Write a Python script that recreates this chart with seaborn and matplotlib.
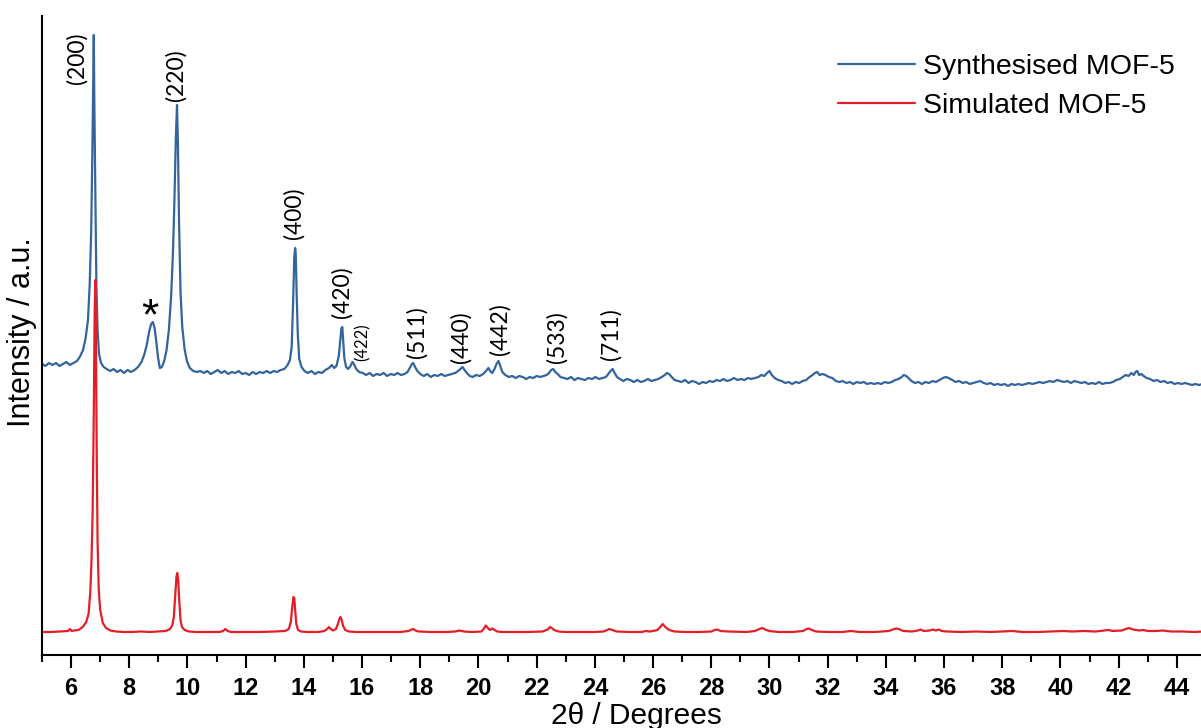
import matplotlib
matplotlib.use("Agg")
import matplotlib.pyplot as plt
from matplotlib.ticker import MultipleLocator
import pandas as pd
import seaborn as sns

# ---------------------------------------------------------------------------
# Powder XRD patterns of MOF-5 (2-theta in degrees, intensity in arbitrary units)
# ---------------------------------------------------------------------------
synth_2theta = [
    5.00, 5.12, 5.24, 5.36, 5.48, 5.60, 5.72, 5.84, 5.96, 6.08, 6.20,
    6.30, 6.41, 6.50, 6.58, 6.64, 6.69, 6.73, 6.76, 6.78, 6.80, 6.83, 6.87, 6.91, 6.96, 7.03, 7.12,
    7.22, 7.34, 7.46, 7.58, 7.70, 7.82, 7.94, 8.06, 8.18,
    8.30, 8.42, 8.52, 8.60, 8.68, 8.75, 8.81, 8.87, 8.93, 8.99, 9.05,
    9.12, 9.20, 9.28, 9.36, 9.44, 9.50, 9.55, 9.60, 9.64, 9.67, 9.71, 9.76, 9.82, 9.90, 9.98, 10.08, 10.20, 10.32,
    10.44, 10.56, 10.68, 10.80, 10.92, 11.04, 11.16, 11.28, 11.40, 11.52, 11.64, 11.76,
    11.88, 12.00, 12.12, 12.24, 12.36, 12.48, 12.60, 12.72, 12.84, 12.96, 13.08, 13.20,
    13.33, 13.44, 13.52, 13.58, 13.63, 13.67, 13.70, 13.72, 13.75, 13.79, 13.84, 13.92, 14.02,
    14.14, 14.26, 14.38, 14.50, 14.62, 14.74, 14.86,
    14.96, 15.04, 15.12, 15.20, 15.25, 15.29, 15.32, 15.35, 15.39, 15.45, 15.52, 15.60, 15.67, 15.72, 15.80, 15.90,
    16.02, 16.14, 16.26, 16.38, 16.50, 16.62, 16.74, 16.86, 16.98, 17.10, 17.22, 17.34, 17.46,
    17.56, 17.64, 17.71, 17.76, 17.82, 17.90, 18.00,
    18.12, 18.24, 18.36, 18.48, 18.60, 18.72, 18.84, 18.96, 19.08, 19.20,
    19.30, 19.38, 19.45, 19.52, 19.60, 19.70, 19.80, 19.92, 20.04, 20.16,
    20.26, 20.34, 20.40, 20.47, 20.55, 20.62, 20.69, 20.75, 20.82, 20.92, 21.04,
    21.16, 21.28, 21.40, 21.52, 21.64, 21.76, 21.88, 22.00, 22.12, 22.24,
    22.34, 22.42, 22.50, 22.57, 22.64, 22.72, 22.82, 22.94,
    23.06, 23.18, 23.30, 23.42, 23.54, 23.66, 23.78, 23.90, 24.02, 24.14, 24.26, 24.38,
    24.46, 24.54, 24.61, 24.68, 24.76, 24.86,
    24.98, 25.10, 25.22, 25.34, 25.46, 25.58, 25.70, 25.82, 25.94, 26.06, 26.18, 26.30,
    26.40, 26.48, 26.55, 26.64, 26.74, 26.86,
    26.98, 27.10, 27.22, 27.34, 27.46, 27.58, 27.70, 27.82, 27.94, 28.06, 28.18, 28.30,
    28.42, 28.54, 28.66, 28.78, 28.90, 29.02, 29.14, 29.26, 29.38, 29.50, 29.62,
    29.72, 29.82, 29.92, 30.00, 30.08, 30.18, 30.30,
    30.42, 30.54, 30.66, 30.78, 30.90, 31.02, 31.14, 31.26,
    31.38, 31.48, 31.56, 31.64, 31.72, 31.82, 31.92, 32.04, 32.16, 32.28, 32.40,
    32.52, 32.64, 32.76, 32.88, 33.00, 33.12, 33.24, 33.36, 33.48, 33.60, 33.72, 33.84, 33.96, 34.08, 34.20, 34.32,
    34.44, 34.54, 34.62, 34.70, 34.78, 34.88, 35.00, 35.12,
    35.24, 35.36, 35.48, 35.60, 35.72, 35.84, 35.96, 36.06, 36.16, 36.28, 36.40, 36.52, 36.64, 36.76, 36.88, 37.00,
    37.12, 37.24, 37.36, 37.48, 37.60, 37.72, 37.84, 37.96, 38.08, 38.20, 38.32,
    38.44, 38.56, 38.68, 38.80, 38.92, 39.04, 39.16, 39.28, 39.40, 39.52,
    39.64, 39.76, 39.88, 40.00, 40.12, 40.24, 40.36, 40.48, 40.60, 40.72, 40.84,
    40.96, 41.08, 41.20, 41.32, 41.44, 41.56, 41.68, 41.80, 41.92, 42.04,
    42.14, 42.24, 42.34, 42.44, 42.52, 42.58, 42.64, 42.70, 42.78, 42.86, 42.96, 43.08, 43.20,
    43.32, 43.44, 43.56, 43.68, 43.80, 43.92, 44.04, 44.16, 44.28, 44.40, 44.52, 44.64, 44.76, 44.88,
]
synth_intensity = [
    288, 286, 289, 287, 289, 286, 288, 290, 287, 289, 291,
    295, 302, 314, 332, 368, 420, 499, 575, 617, 545, 465, 365, 322, 298, 289, 285,
    283, 281, 283, 280, 282, 279, 282, 280, 282,
    285, 290, 298, 307, 320, 328, 330, 324, 310, 294, 284,
    285, 291, 302, 322, 357, 399, 450, 515, 547, 510, 430, 360, 325, 303, 291, 284, 281, 280,
    281, 279, 281, 278, 280, 282, 279, 281, 278, 280, 279, 281,
    278, 279, 277, 280, 278, 280, 279, 281, 279, 281, 280, 282,
    283, 287, 292, 305, 350, 395, 404, 398, 360, 318, 293, 285, 281,
    279, 281, 278, 280, 279, 282, 284,
    287, 284, 286, 296, 312, 324, 325, 312, 294, 285, 283, 286, 290, 288, 283, 280,
    279, 277, 279, 276, 278, 277, 279, 276, 278, 277, 279, 277, 278,
    280, 284, 288, 289, 285, 281, 278,
    276, 278, 275, 277, 276, 278, 276, 277, 278, 279,
    281, 283, 285, 282, 279, 276, 275, 277, 276, 278,
    281, 284, 281, 279, 283, 288, 291, 286, 280, 277, 275,
    276, 274, 276, 275, 273, 275, 274, 276, 275, 276,
    277, 279, 282, 283, 280, 278, 275, 274,
    273, 275, 272, 274, 273, 272, 274, 273, 275, 273, 274, 275,
    278, 281, 283, 279, 275, 273,
    271, 273, 272, 270, 272, 270, 271, 273, 271, 272, 273, 275,
    277, 279, 278, 275, 272, 271,
    270, 272, 269, 271, 270, 268, 270, 269, 271, 270, 272, 271,
    273, 271, 272, 274, 272, 273, 272, 274, 273, 274, 275,
    277, 276, 279, 281, 277, 274, 272,
    271, 269, 270, 268, 270, 269, 271, 272,
    275, 277, 279, 280, 277, 278, 277, 275, 274, 271, 270,
    271, 269, 270, 268, 270, 269, 270, 268, 269, 268, 269, 268, 270, 269, 270, 272,
    273, 275, 277, 276, 274, 271, 269, 270,
    268, 270, 269, 271, 270, 272, 274, 275, 274, 272, 270, 271, 269, 270, 268, 269,
    270, 271, 269, 268, 269, 267, 268, 267, 268, 266, 268,
    267, 268, 267, 268, 269, 268, 269, 270, 269, 270,
    271, 270, 272, 271, 270, 271, 269, 271, 270, 269, 270,
    268, 269, 268, 270, 268, 269, 269, 270, 272, 273,
    275, 277, 276, 279, 277, 280, 281, 277, 278, 276, 274, 273, 271,
    272, 270, 271, 269, 270, 268, 269, 268, 269, 268, 267, 268, 267, 268,
]

sim_2theta = [
    5.00, 5.30, 5.60, 5.90, 5.96, 6.02, 6.10,
    6.25, 6.40, 6.52, 6.60, 6.66, 6.70, 6.74, 6.78, 6.81, 6.83, 6.85, 6.88, 6.91, 6.95, 7.00, 7.09, 7.20, 7.35, 7.55,
    7.80, 8.10, 8.40, 8.70, 9.00, 9.25, 9.40, 9.48, 9.53, 9.58, 9.62, 9.65, 9.68, 9.72, 9.76, 9.81, 9.90, 10.05, 10.30,
    10.70, 11.10, 11.22, 11.30, 11.38, 11.50, 12.00, 12.50, 13.00, 13.35, 13.48, 13.55, 13.60, 13.64, 13.67, 13.70, 13.74, 13.80, 13.90, 14.10,
    14.50, 14.70, 14.80, 14.86, 14.92, 15.00, 15.10, 15.17, 15.22, 15.26, 15.30, 15.35, 15.42, 15.55, 15.80,
    16.30, 16.80, 17.30, 17.60, 17.70, 17.76, 17.83, 17.95, 18.40, 18.90, 19.20, 19.35, 19.50, 19.80,
    20.10, 20.18, 20.25, 20.32, 20.40, 20.47, 20.55, 20.65, 20.80, 21.20, 21.70, 22.20, 22.38, 22.46, 22.52, 22.60, 22.75, 23.00,
    23.50, 24.00, 24.30, 24.42, 24.50, 24.60, 24.75, 25.20, 25.60, 25.75, 25.90, 26.15, 26.25, 26.33, 26.42, 26.55, 26.75, 27.10,
    27.60, 28.00, 28.12, 28.20, 28.32, 28.60, 29.20, 29.50, 29.65, 29.75, 29.85, 30.00, 30.30, 30.80, 31.15, 31.28, 31.36, 31.45, 31.60,
    32.00, 32.50, 32.80, 33.10, 33.60, 34.10, 34.28, 34.38, 34.48, 34.60, 34.90, 35.10, 35.20, 35.30, 35.50, 35.62, 35.72, 35.82, 35.92, 36.10,
    36.60, 37.10, 37.60, 38.00, 38.35, 38.70, 39.20, 39.70, 40.10, 40.40, 40.80, 41.20, 41.50, 41.65,
    41.80, 42.10, 42.25, 42.35, 42.50, 42.70, 42.85, 43.00, 43.30, 43.50, 43.80, 44.20, 44.60, 44.90,
]
sim_intensity = [
    20, 20, 20.5, 21, 23, 21, 21.5,
    22, 25, 30, 38, 60, 90, 140, 240, 340, 372, 330, 200, 110, 62, 42, 29, 24, 21.5, 20.5,
    20, 20, 20.5, 20, 20.5, 21, 23, 27, 35, 58, 75, 79, 72, 50, 32, 25, 22, 20.5, 20,
    20, 20, 21, 23, 21, 20, 20, 20, 20.5, 21, 23, 30, 45, 55, 54, 42, 28, 22, 20.5, 20,
    20, 21, 23, 25, 23, 21.5, 23, 28, 33, 35, 32, 26, 22, 20.5, 20,
    20, 20, 20, 21, 22.5, 23, 21.5, 20.5, 20, 20, 20.5, 21.5, 20.5, 20,
    20.5, 23, 26.5, 24, 22, 23.5, 22, 20.5, 20, 20, 20, 20.5, 22.5, 25, 24, 22, 20.5, 20,
    20, 20, 20.5, 22, 23, 22, 20.5, 20, 20, 21, 20.5, 22, 25, 28, 25, 22, 20.5, 20,
    20, 20.5, 22, 22.5, 21, 20.5, 20, 21, 23, 24, 22.5, 21, 20, 20, 21, 23, 23.5, 22, 20.5,
    20, 20, 21, 20, 20, 21, 23, 23.5, 22.5, 21, 20.5, 21.5, 22.5, 21, 21.5, 22.5, 21.5, 22.5, 21, 20.5,
    20, 20.5, 20, 20.5, 21, 20, 20, 20.5, 21, 20.5, 21, 20.5, 21.5, 22,
    21, 21.5, 23, 24, 22.5, 21.5, 22, 21, 21, 21.5, 20.5, 20.5, 20, 20.5,
]

pattern_names = ["Synthesised MOF-5", "Simulated MOF-5"]
pattern_colors = ["#33659c", "#e41e26"]

# Miller-index labels placed over the synthesised pattern
hkl_labels = ["(200)", "(220)", "(400)", "(420)", "(422)", "(511)", "(440)", "(442)", "(533)", "(711)"]
hkl_x = [6.21, 9.61, 13.67, 15.32, 16.01, 17.87, 19.41, 20.75, 22.68, 24.56]
hkl_y = [594, 577, 439, 360, 310, 320, 315, 323, 315, 318]
hkl_size = [16.5, 16.5, 16.5, 16.5, 12, 16.5, 16.5, 16.5, 16.5, 16.5]
impurity_x, impurity_y = 8.70, 334

x_tick_values = list(range(6, 45, 2))

# ---------------------------------------------------------------------------
sns.set_style("ticks")
plt.rcParams["font.family"] = ["Liberation Sans", "DejaVu Sans"]
plt.rcParams["text.color"] = "black"

df = pd.concat([
    pd.DataFrame({"two_theta": synth_2theta, "intensity": synth_intensity,
                  "pattern": pattern_names[0]}),
    pd.DataFrame({"two_theta": sim_2theta, "intensity": sim_intensity,
                  "pattern": pattern_names[1]}),
], ignore_index=True)

fig = plt.figure(figsize=(12.01, 7.28), dpi=100)
ax = fig.add_axes([42 / 1201, 73 / 728, 1159 / 1201, 639 / 728])

sns.lineplot(data=df, x="two_theta", y="intensity", hue="pattern",
             hue_order=pattern_names, palette=pattern_colors,
             sort=False, estimator=None, linewidth=1.6, ax=ax)

ax.set_xlim(5, 44.83)
ax.set_ylim(-3, 636)

# axes frame: only left and bottom spines
for side in ("top", "right"):
    ax.spines[side].set_visible(False)
for side in ("left", "bottom"):
    ax.spines[side].set_linewidth(1.5)
    ax.spines[side].set_color("black")

ax.set_yticks([])
ax.set_xticks(x_tick_values)
ax.set_xticklabels([str(v) for v in x_tick_values], fontweight="bold",
                   family=["Liberation Sans Narrow", "Liberation Sans"], fontsize=17)
ax.xaxis.set_minor_locator(MultipleLocator(1))
ax.tick_params(axis="x", which="major", direction="out", length=9.5, width=1.5,
               pad=6, colors="black")
ax.tick_params(axis="x", which="minor", direction="out", length=5, width=1.5,
               colors="black")
ax.set_xlabel("")
ax.set_ylabel("")

# axis titles
fig.text(636 / 1201, 1 - 716 / 728, "2\u03b8 / Degrees", fontsize=21.5,
         ha="center", va="center", color="black")
fig.text(22 / 1201, 1 - 332 / 728, "Intensity / a.u.", fontsize=22,
         rotation=90, ha="center", va="center", color="black")

# peak labels
for lab, xv, yv, fs in zip(hkl_labels, hkl_x, hkl_y, hkl_size):
    ax.text(xv, yv, lab, rotation=90, ha="center", va="center", fontsize=fs,
            family=["Lato", "DejaVu Sans"], color="black")
ax.text(impurity_x, impurity_y, "*", ha="center", va="center", fontsize=32,
        family=["Liberation Sans", "DejaVu Sans"], color="black")

handles, labels = ax.get_legend_handles_labels()
ax.legend(handles, labels, frameon=False, fontsize=20.5, handlelength=2.7,
          handletextpad=0.28, labelspacing=0.45, loc="upper left",
          bbox_to_anchor=(838 / 1201, 1 - 54 / 728), bbox_transform=fig.transFigure,
          borderpad=0, borderaxespad=0, labelcolor="black")

fig.savefig("out.png", dpi=100)
